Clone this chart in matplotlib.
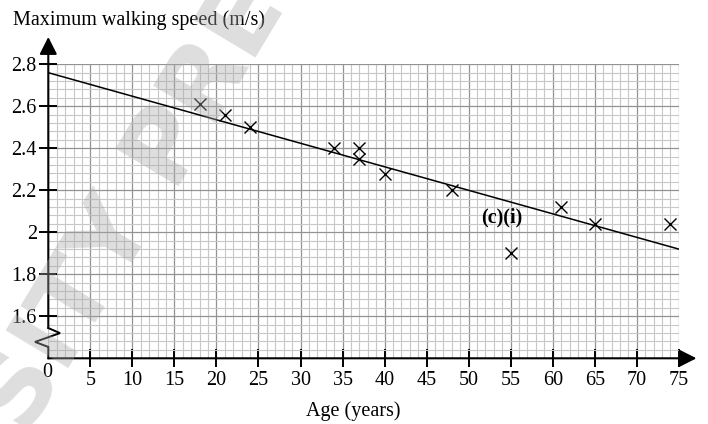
import numpy as np
import matplotlib
matplotlib.use("Agg")
import matplotlib.pyplot as plt
from matplotlib.ticker import MultipleLocator

# Walking-speed data: age (years) vs maximum walking speed (m/s)
ages = [18, 21, 24, 34, 37, 37, 40, 48, 55, 61, 65, 74]
speeds = [2.61, 2.56, 2.50, 2.40, 2.40, 2.35, 2.28, 2.20, 1.90, 2.12, 2.04, 2.04]

# Line of best fit, end points at age 0 and age 75
fit_ages = [0, 75]
fit_speeds = [2.76, 1.92]

x_ticks = list(range(5, 80, 5))
y_ticks = [1.6, 1.8, 2.0, 2.2, 2.4, 2.6, 2.8]
y_tick_labels = ["1.6", "1.8", "2", "2.2", "2.4", "2.6", "2.8"]

SERIF = ["Liberation Serif", "DejaVu Serif"]
plt.rcParams["font.family"] = SERIF
FS = 14.5

W, H = 708, 424
fig = plt.figure(figsize=(W / 100, H / 100), dpi=100)
ax = fig.add_axes([48.3 / W, 1 - 358.3 / H, 630.5 / W, 294.0 / H])

xmin, xmax = 0, 75
ymin, ymax = 1.4, 2.8
ax.set_xlim(xmin, xmax)
ax.set_ylim(ymin, ymax)

# graph-paper grid
ax.xaxis.set_minor_locator(MultipleLocator(1))
ax.yaxis.set_minor_locator(MultipleLocator(0.04))
ax.set_xticks(x_ticks)
ax.set_yticks(y_ticks)
ax.set_yticklabels(y_tick_labels)
ax.grid(which="minor", color="#c8c8c8", lw=0.8, zorder=0)
ax.grid(which="major", color="#939393", lw=0.9, zorder=0)
ax.set_axisbelow(True)

for s in ax.spines.values():
    s.set_visible(False)

ax.tick_params(which="major", direction="inout", length=12.5, width=1.4,
               labelsize=FS, color="black")
ax.tick_params(axis="x", which="major", pad=3.0)
ax.tick_params(axis="y", which="major", pad=2.0)
ax.tick_params(which="minor", length=0)

# axes with arrow heads
arrow = dict(arrowstyle="-|>,head_length=0.75,head_width=0.38", lw=1.5,
             color="black", shrinkA=0, shrinkB=0, mutation_scale=14)
ax.annotate("", xy=(77.1, ymin), xytext=(xmin, ymin), arrowprops=arrow,
            annotation_clip=False)
y_break_top = 1.544
ax.annotate("", xy=(0, 2.93), xytext=(0, y_break_top), arrowprops=arrow,
            annotation_clip=False)

# zigzag break on the vertical axis
zig_x = [0, 1.39, -1.58, 0, 0]
zig_y = [y_break_top, 1.520, 1.478, 1.454, ymin]
ax.plot(zig_x, zig_y, color="black", lw=1.4, clip_on=False, zorder=5,
        solid_joinstyle="miter")

# origin label
ax.annotate("0", xy=(0, ymin), xytext=(-0.5, -10.5), textcoords="offset points",
            ha="center", va="center", fontsize=FS, annotation_clip=False)

# data and best-fit line
ax.plot(fit_ages, fit_speeds, color="black", lw=1.1, zorder=4)
ax.plot(ages, speeds, linestyle="none", marker="x", markersize=8,
        markeredgewidth=1.0, color="black", zorder=5)

ax.text(53.9, 2.07, "(c)(i)", ha="center", va="center", fontsize=FS,
        fontweight="bold")

fig.text(13 / W, 1 - 25 / H, "Maximum walking speed (m/s)", ha="left",
         va="baseline", fontsize=FS)
fig.text(353 / W, 1 - 416 / H, "Age (years)", ha="center", va="baseline",
         fontsize=FS)

# faint diagonal watermark, placed so the S of "SITY" sits near the lower left
wm_kw = dict(fontsize=72, family="DejaVu Sans", fontweight="bold")
renderer = fig.canvas.get_renderer()


def text_width(s):
    t = fig.text(0, 0, s, **wm_kw)
    w = t.get_window_extent(renderer).width
    t.remove()
    return w


s_center = np.array([22.0, 392.0])   # pixel position, origin top-left
e_center = np.array([245.0, 22.0])
d = e_center - s_center
u = d / np.linalg.norm(d)
angle = np.degrees(np.arctan2(-u[1], u[0]))
lead = text_width("UNIVER") + text_width("S") / 2
start = s_center - u * lead
fig.text(start[0] / W, 1 - start[1] / H, "UNIVERSITY PRESS", ha="left",
         va="center", rotation=angle, rotation_mode="anchor",
         color="#a8a8a8", alpha=0.38, zorder=10, **wm_kw)

fig.savefig("out.png", dpi=100)
